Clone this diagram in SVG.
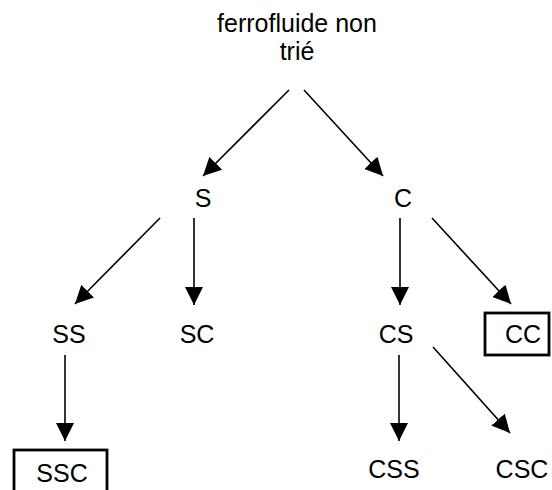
<svg xmlns="http://www.w3.org/2000/svg" width="552" height="490" viewBox="0 0 552 490">
<style>
text{font-family:"Liberation Sans",Arial,sans-serif;font-size:25px;fill:#000;text-anchor:middle}
.c line{stroke:#000;stroke-width:1.6;marker-end:url(#a)}
.box{fill:none;stroke:#000;stroke-width:2.8}
</style>
<defs>
<marker id="a" viewBox="0 0 16 16" refX="16" refY="8" markerWidth="18" markerHeight="18" markerUnits="userSpaceOnUse" orient="auto"><path d="M0,0 L16,8 L0,16 Z" fill="#000"/></marker>
</defs>
<rect width="552" height="490" fill="#fff"/>
<g class="c" id="connectors">
<line x1="289" y1="90" x2="203" y2="176"/>
<line x1="304" y1="90" x2="383" y2="176"/>
<line x1="160" y1="218" x2="75" y2="304"/>
<line x1="194" y1="218" x2="194" y2="305"/>
<line x1="400" y1="218" x2="400" y2="305"/>
<line x1="432" y1="218" x2="511" y2="304"/>
<line x1="65" y1="355" x2="65" y2="441"/>
<line x1="399" y1="355" x2="399" y2="441"/>
<line x1="433" y1="347" x2="510" y2="433"/>
</g>
<g id="root"><text x="297" y="32">ferrofluide non</text><text x="297" y="60">trié</text></g>
<g id="S"><text x="203" y="207">S</text></g>
<g id="C"><text x="403" y="207">C</text></g>
<g id="SS"><text x="69" y="343">SS</text></g>
<g id="SC"><text x="197" y="343">SC</text></g>
<g id="CS"><text x="396" y="343">CS</text></g>
<g id="CC"><rect class="box" x="485" y="313" width="64" height="42"/><text x="523" y="343">CC</text></g>
<g id="SSC"><rect class="box" x="14" y="450" width="93" height="42"/><text x="62" y="482">SSC</text></g>
<g id="CSS"><text x="394" y="478">CSS</text></g>
<g id="CSC"><text x="522" y="478">CSC</text></g>
</svg>
